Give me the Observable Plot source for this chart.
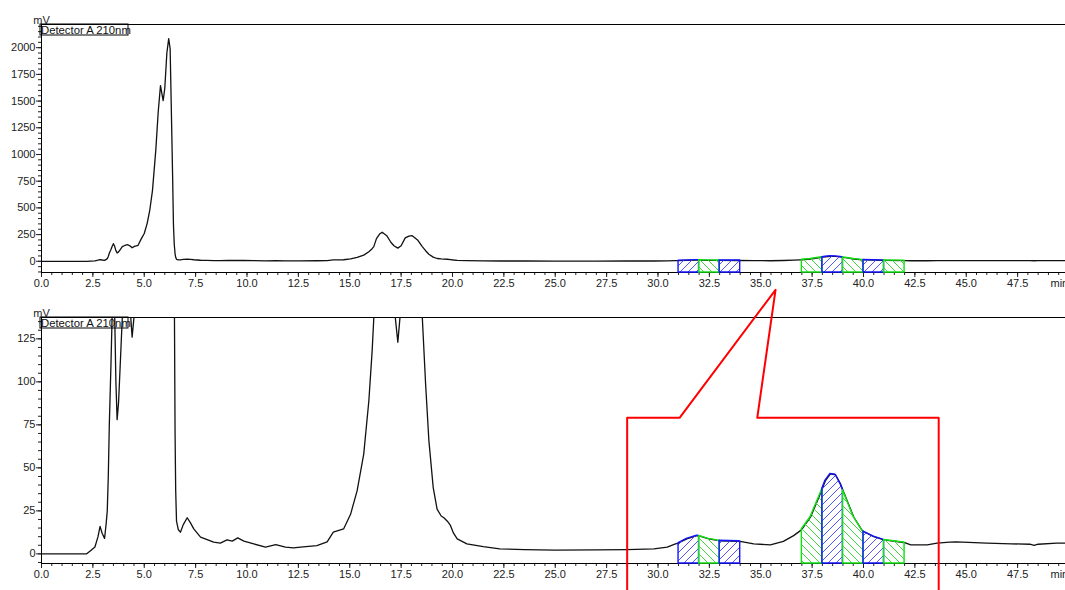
<!DOCTYPE html>
<html>
<head>
<meta charset="utf-8">
<script src="https://cdn.jsdelivr.net/npm/d3@7"></script>
<script src="https://cdn.jsdelivr.net/npm/@observablehq/plot@0.6"></script>
<style>
  html, body { margin: 0; padding: 0; background: #fff; overflow: hidden; }
  #chart { position: relative; width: 1065px; height: 590px; }
  #chart svg.plot, #chart svg { display: block; }
</style>
</head>
<body>
<!-- hatch patterns for the collected fractions -->
<svg width="0" height="0" style="position:absolute">
  <defs>
    <pattern id="hatch-blue" patternUnits="userSpaceOnUse" width="8" height="8">
      <path d="M-2,2L2,-2M0,8L8,0M6,10L10,6" stroke="#5252ff" stroke-width="1"/>
    </pattern>
    <pattern id="hatch-green" patternUnits="userSpaceOnUse" width="8" height="8">
      <path d="M-2,6L2,10M0,0L8,8M6,-2L10,2" stroke="#3ed83e" stroke-width="1"/>
    </pattern>
  </defs>
</svg>
<div id="chart"></div>
<script>
// Detector A, 210 nm: retention time (min) and signal (mV)
const retentionTime = [
  0, 2.2, 2.4, 2.6, 2.75, 2.85, 2.95, 3.07, 3.15, 3.2,
  3.25, 3.3, 3.38, 3.44, 3.5, 3.56, 3.62, 3.68, 3.75, 3.85,
  3.93, 4.05, 4.2, 4.3, 4.41, 4.52, 4.7, 4.86, 5.0, 5.14,
  5.27, 5.4, 5.56, 5.68, 5.79, 5.85, 5.92, 6.0, 6.1, 6.19,
  6.26, 6.33, 6.38, 6.42, 6.46, 6.5, 6.53, 6.57, 6.66, 6.76,
  6.9, 7.09, 7.25, 7.41, 7.74, 8.06, 8.38, 8.7, 9.03, 9.28,
  9.55, 9.85, 10.33, 10.9, 11.4, 11.87, 12.27, 12.6, 13.4, 13.9,
  14.2, 14.7, 15.04, 15.36, 15.68, 15.93, 16.09, 16.17, 16.3, 16.45,
  16.58, 16.8, 17.0, 17.15, 17.34, 17.5, 17.7, 17.88, 18.04, 18.3,
  18.52, 18.69, 18.85, 19.06, 19.25, 19.45, 19.58, 19.75, 19.9, 20.05,
  20.23, 20.7, 21.5, 22.3, 23.5, 25.0, 27.0, 28.5, 29.8, 30.45,
  30.85, 31.0, 31.4, 31.9, 32.0, 32.47, 32.96, 33.0, 33.93, 34.0,
  34.66, 35.47, 36.1, 36.6, 36.93, 37.0, 37.42, 37.9, 38.0, 38.15,
  38.39, 38.64, 38.88, 39.0, 39.2, 39.53, 39.94, 40.0, 40.5, 40.99,
  41.0, 41.96, 42.0, 42.3, 43.1, 43.58, 44.2, 44.5, 46.0, 47.2,
  48.1, 48.3, 48.5, 49.4, 49.83
];
const signal = [
  0, 0, 2, 4, 10, 16, 12, 9, 18, 25,
  45, 75, 110, 140, 165, 140, 100, 78, 88, 115,
  137, 148, 155, 145, 126, 140, 150, 212, 260, 353,
  480, 662, 1036, 1400, 1645, 1580, 1505, 1620, 1950, 2085,
  1990, 1300, 800, 350, 160, 70, 37, 19, 14, 12.6,
  17, 21, 18, 14.5, 9.7, 8.3, 6.8, 6.2, 8.1, 7.4,
  9.3, 7.4, 5.8, 3.9, 5.4, 3.9, 3.5, 3.9, 4.8, 7,
  12.6, 14.5, 23, 36.8, 58, 89, 118, 137, 212, 255,
  272, 240, 178, 145, 123, 145, 219, 236, 240, 200,
  140, 99, 66, 38.7, 26, 22, 21, 19, 16.5, 12,
  8.7, 5.8, 4.2, 2.9, 2.5, 2.2, 2.3, 2.5, 2.9, 3.9,
  5.8, 6.3, 8.7, 10.6, 10.4, 8.7, 7.7, 7.6, 7.3, 7.2,
  5.8, 5.2, 7.3, 10.6, 13.5, 14.3, 21.3, 34.9, 38, 42.6,
  46.5, 46, 40.7, 37, 31, 21.3, 13.5, 13, 10, 8.1,
  8.1, 6.6, 6.5, 5.2, 5.2, 6.2, 6.8, 7, 6.2, 5.8,
  5.6, 5, 5.6, 6.2, 6.2
];

// Collected fractions (min) and their hatch family
const fractionStart = [31, 32, 33, 37, 38, 39, 40, 41];
const fractionEnd   = [32, 33, 34, 38, 39, 40, 41, 42];
const fractionKind  = ["blue", "green", "blue", "green", "blue", "green", "blue", "green"];

// Axis ticks
const xMajorTicks = [0, 2.5, 5, 7.5, 10, 12.5, 15, 17.5, 20, 22.5, 25, 27.5, 30, 32.5, 35, 37.5, 40, 42.5, 45, 47.5];
const xMinorTicks = d3.range(0, 49.8, 0.5);
const topMajorTicks = [0, 250, 500, 750, 1000, 1250, 1500, 1750, 2000];
const topMinorTicks = d3.range(-100, 2201, 50);
const zoomMajorTicks = [0, 25, 50, 75, 100, 125];
const zoomMinorTicks = d3.range(-5, 136, 5);

// Zoom call-out outline, in the lower panel's (min, mV) coordinates
const calloutTime  = [28.5, 28.5, 31.05, 35.72, 34.83, 43.66, 43.66];
const calloutLevel = [-25, 79.1, 79.1, 153.5, 79.1, 79.1, -25];

const rows = retentionTime.map((t, i) => ({t, v: signal[i]}));
const fractions = fractionStart.map((a, i) => ({a, b: fractionEnd[i], kind: fractionKind[i]}));
const callout = calloutTime.map((t, i) => ({t, v: calloutLevel[i]}));

const hatchFill = {blue: "url(#hatch-blue)", green: "url(#hatch-green)"};
const hatchStroke = {blue: "#1414ff", green: "#12e012"};

const ns = "http://www.w3.org/2000/svg";
function detectorLabel(index, scales, values, dims) {
  const g = document.createElementNS(ns, "g");
  const rect = document.createElementNS(ns, "rect");
  rect.setAttribute("x", dims.marginLeft - 1);
  rect.setAttribute("y", dims.marginTop);
  rect.setAttribute("width", 88);
  rect.setAttribute("height", 11);
  rect.setAttribute("fill", "none");
  rect.setAttribute("stroke", "#000");
  const text = document.createElementNS(ns, "text");
  text.setAttribute("x", dims.marginLeft);
  text.setAttribute("y", dims.marginTop + 9.5);
  text.setAttribute("font-size", 11.3);
  text.setAttribute("text-anchor", "start");
  text.setAttribute("fill", "#111");
  text.textContent = "Detector A 210nm";
  g.append(rect, text);
  return g;
}

function panel({height, marginTop, marginBottom, yDomain, yMajor, yMinor, extra = []}) {
  return Plot.plot({
    width: 1065,
    height,
    marginLeft: 41,
    marginRight: 0,
    marginTop,
    marginBottom,
    style: {
      fontFamily: "'Liberation Sans', Arial, sans-serif",
      fontSize: "11px",
      color: "#222",
      background: "transparent",
      overflow: "visible"
    },
    x: {domain: [0, 49.83], label: null},
    y: {domain: yDomain, label: null},
    marks: [
      Plot.axisX({ticks: xMinorTicks, tickSize: 3, tickFormat: () => "", label: null}),
      Plot.axisX({ticks: xMajorTicks, tickSize: 5, tickPadding: 2, tickFormat: d3.format(".1f"), label: null}),
      Plot.text(["min"], {x: 49.1, frameAnchor: "bottom", lineAnchor: "top", dy: 7, textAnchor: "start", fill: "#222"}),
      Plot.axisY({ticks: yMinor, tickSize: 3, tickFormat: () => "", label: null}),
      Plot.axisY({ticks: yMajor, tickSize: 5, tickPadding: 1, tickFormat: "d", label: null}),
      Plot.ruleX([0], {stroke: "#000"}),
      Plot.ruleY(yDomain, {stroke: "#000"}),
      Plot.line(rows, {x: "t", y: "v", stroke: "#111", strokeWidth: 1.3, clip: true}),
      ...fractions.map(f => Plot.areaY(rows.filter(d => d.t >= f.a && d.t <= f.b), {
        x: "t", y1: yDomain[0], y2: "v",
        fill: hatchFill[f.kind], stroke: hatchStroke[f.kind], strokeWidth: 1.4
      })),
      detectorLabel,
      Plot.text(["mV"], {frameAnchor: "top-left", lineAnchor: "bottom", textAnchor: "middle", dy: -1, fill: "#222"}),
      ...extra
    ]
  });
}

const chart = document.getElementById("chart");
chart.append(
  panel({height: 295, marginTop: 24, marginBottom: 23, yDomain: [-105, 2217], yMajor: topMajorTicks, yMinor: topMinorTicks}),
  panel({height: 295, marginTop: 22, marginBottom: 27, yDomain: [-5.6, 137.4], yMajor: zoomMajorTicks, yMinor: zoomMinorTicks,
    extra: [Plot.line(callout, {x: "t", y: "v", stroke: "#ff0000", strokeWidth: 2})]})
);
</script>
</body>
</html>
